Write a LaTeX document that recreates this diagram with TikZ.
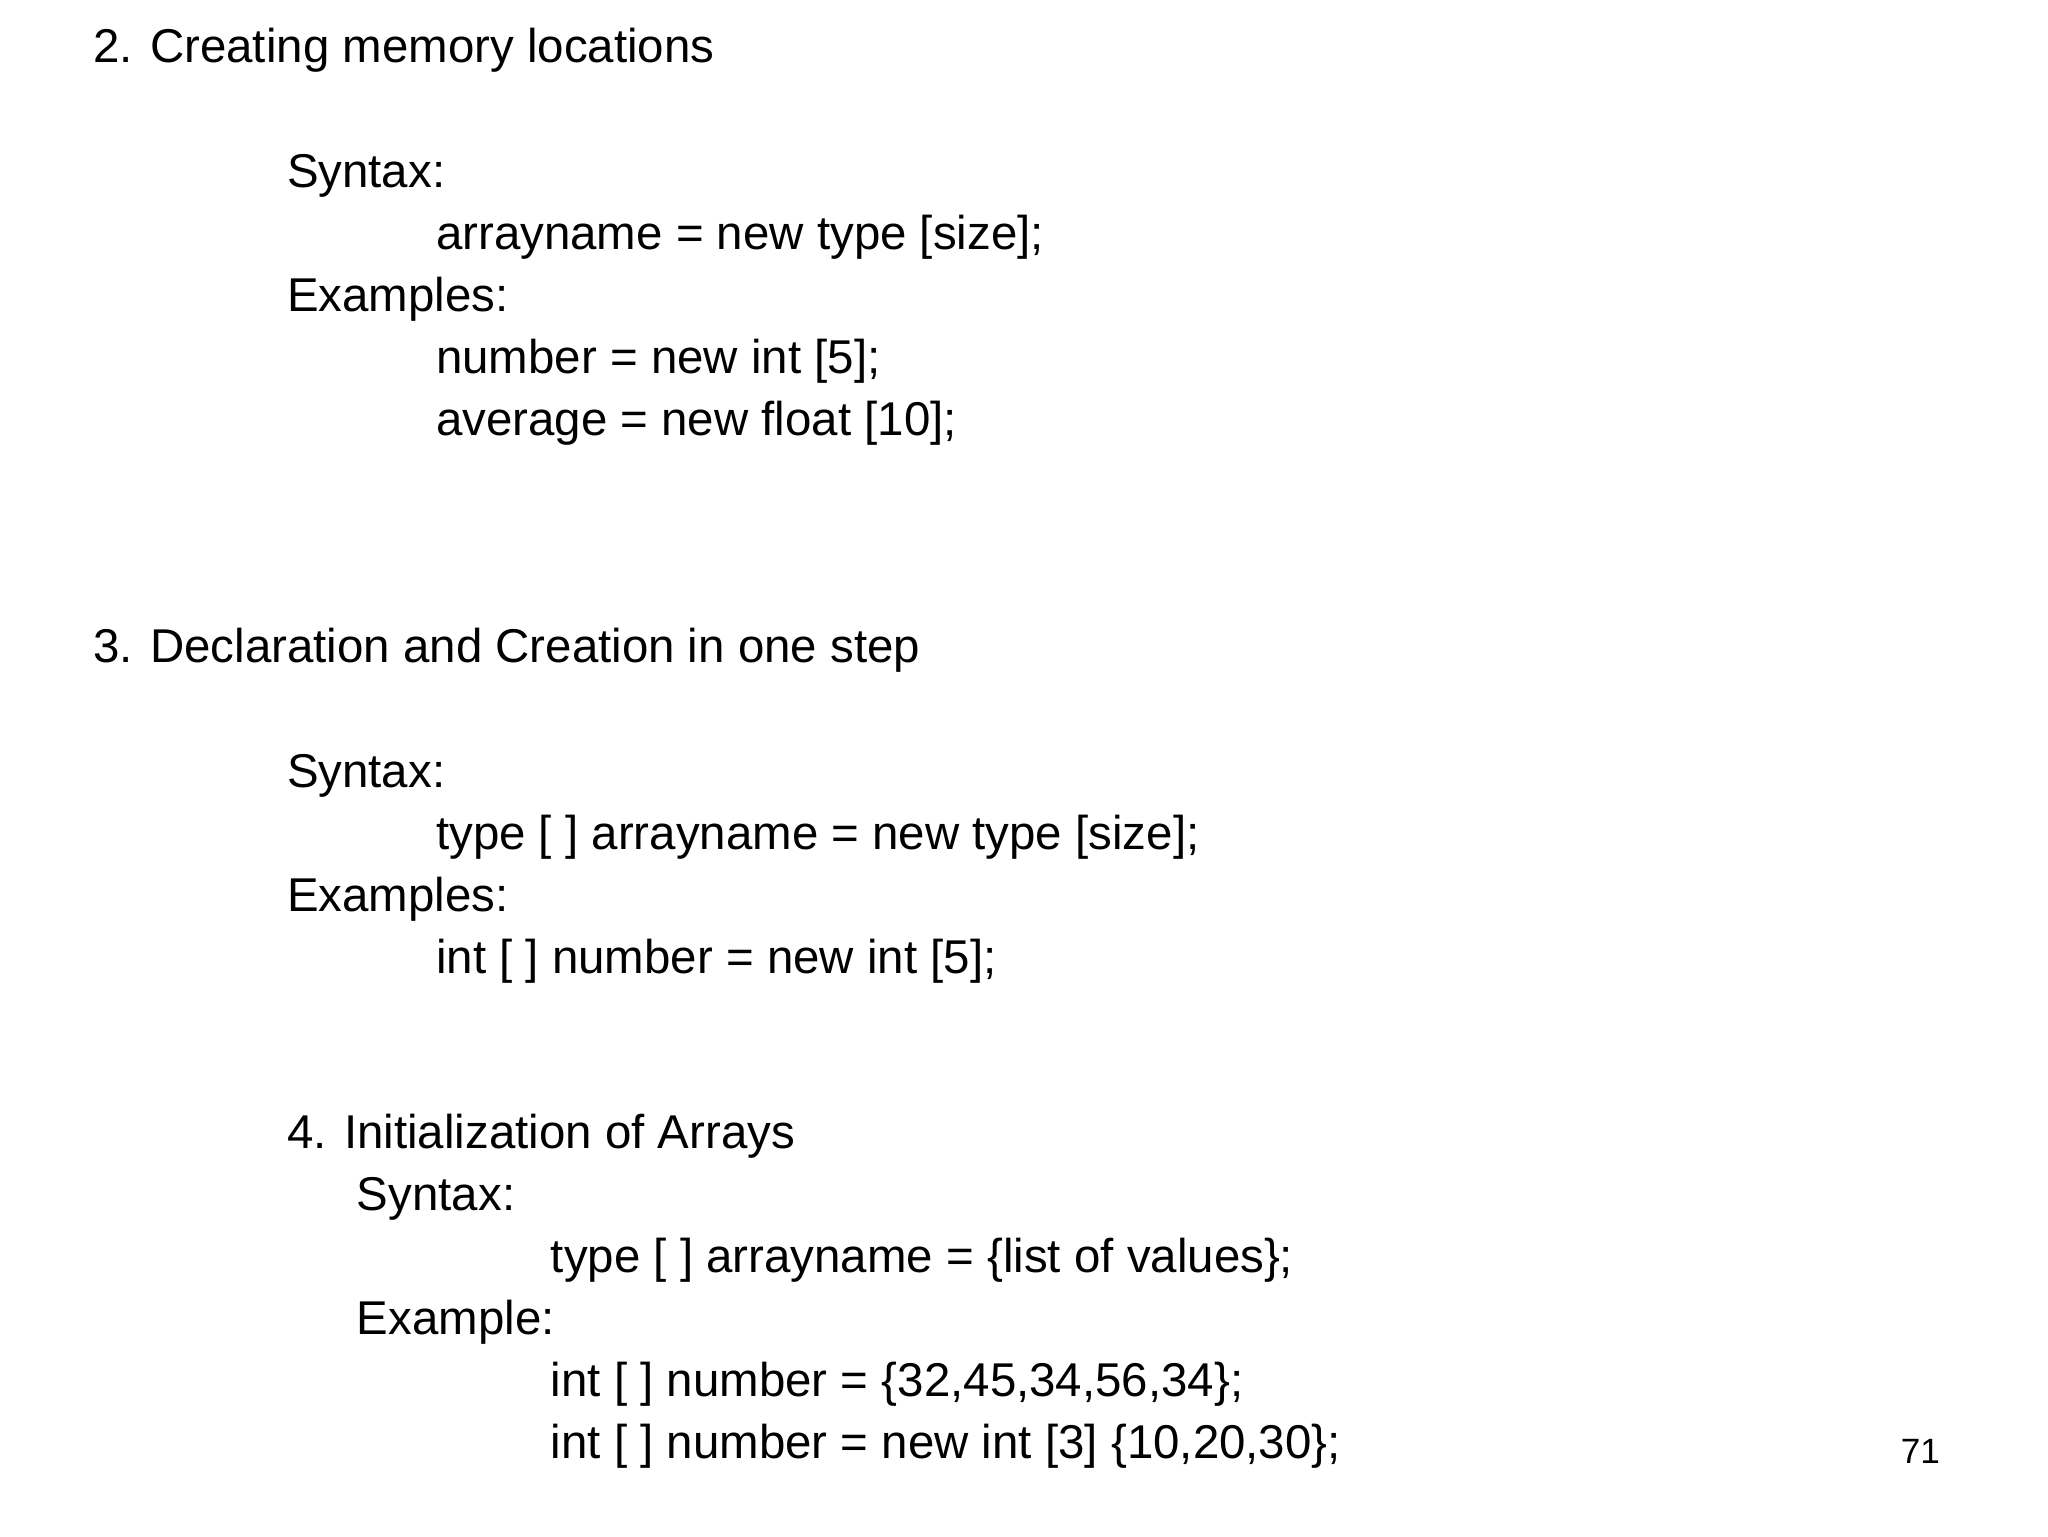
\documentclass[tikz,border=0pt]{standalone}
\usepackage{fontspec}
\setmainfont{Liberation Sans}
\begin{document}
\begin{tikzpicture}[x=0.013196cm,y=-0.013196cm,
  txt/.style={anchor=base west,inner sep=0pt,font=\fontsize{13.5}{16}\selectfont},
  pg/.style={anchor=base west,inner sep=0pt,font=\fontsize{10}{12}\selectfont}]
\useasboundingbox (0,0) rectangle (1552,1164);
\node[txt] (a1) at (70,47) {2. Creating memory locations};
\node[txt] (a2) at (217,142) {Syntax:};
\node[txt] (a3) at (330,189) {arrayname = new type [size];};
\node[txt] (a4) at (217,236) {Examples:};
\node[txt] (a5) at (330,283) {number = new int [5];};
\node[txt] (a6) at (330,330) {average = new float [10];};
\node[txt] (b1) at (70,502) {3. Declaration and Creation in one step};
\node[txt] (b2) at (217,597) {Syntax:};
\node[txt] (b3) at (330,644) {type [ ] arrayname = new type [size];};
\node[txt] (b4) at (217,691) {Examples:};
\node[txt] (b5) at (330,738) {int [ ] number = new int [5];};
\node[txt] (c1) at (217,870) {4. Initialization of Arrays};
\node[txt] (c2) at (270,917) {Syntax:};
\node[txt] (c3) at (417,964) {type [ ] arrayname = \{list of values\};};
\node[txt] (c4) at (270,1011) {Example:};
\node[txt] (c5) at (417,1058) {int [ ] number = \{32,45,34,56,34\};};
\node[txt] (c6) at (417,1105) {int [ ] number = new int [3] \{10,20,30\};};
\node[pg] (p) at (1440,1109) {71};
\end{tikzpicture}
\end{document}
